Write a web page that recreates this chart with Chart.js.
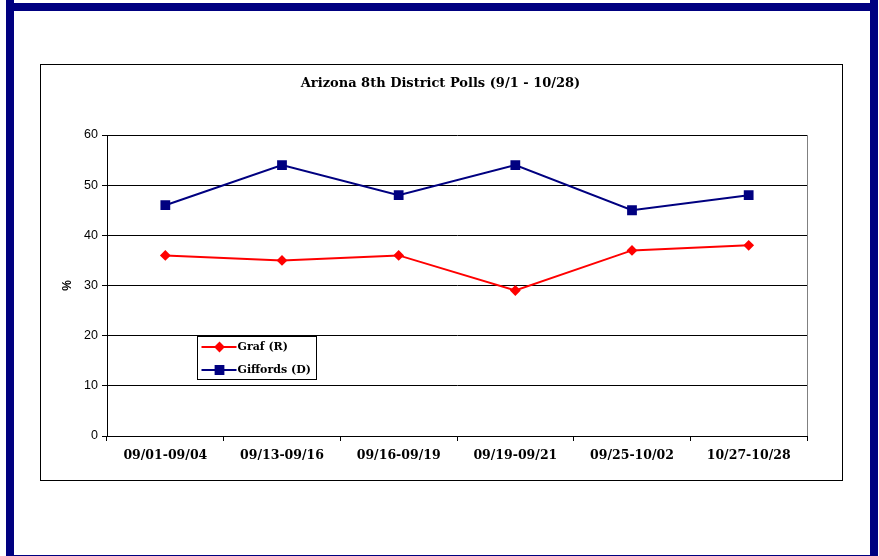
<!DOCTYPE html>
<html>
<head>
<meta charset="utf-8">
<script src="https://cdn.jsdelivr.net/npm/chart.js@4/dist/chart.umd.min.js"></script>
<style>
  body { margin: 0; background: #fff; }
  #page { position: relative; width: 879px; height: 556px; overflow: hidden; }
  .bar { position: absolute; background: #000080; }
  #box { position: absolute; left: 40px; top: 64px; width: 801px; height: 415px; border: 1px solid #000; }
  canvas { position: absolute; left: 0; top: 0; }
</style>
</head>
<body>
<div id="page">
  <div class="bar" style="left:6px;top:0;width:8px;height:556px"></div>
  <div class="bar" style="left:870px;top:0;width:8px;height:556px"></div>
  <div class="bar" style="left:6px;top:3px;width:872px;height:8px"></div>
  <div class="bar" style="left:6px;top:555px;width:872px;height:1px"></div>
  <div id="box"></div>
  <canvas id="myChart" width="879" height="556"></canvas>
</div>
<script>
const periods = ["09/01-09/04", "09/13-09/16", "09/16-09/19", "09/19-09/21", "09/25-10/02", "10/27-10/28"];
const grafValues = [36, 35, 36, 29, 37, 38];
const giffordsValues = [46, 54, 48, 54, 45, 48];
const yTicks = [0, 10, 20, 30, 40, 50, 60];

// legend box + right border of the plot area, drawn like the old excel chart
const boxLegend = {
  id: 'boxLegend',
  afterDraw(chart) {
    const c = chart.ctx;
    const a = chart.chartArea;
    c.save();
    c.strokeStyle = '#808080';
    c.lineWidth = 1;
    c.beginPath();
    c.moveTo(a.right + 0.5, a.top);
    c.lineTo(a.right + 0.5, a.bottom);
    c.stroke();

    const x = 197.5, y = 336.5, w = 119, h = 43;
    c.fillStyle = '#fff';
    c.fillRect(x, y, w, h);
    c.strokeStyle = '#000';
    c.strokeRect(x, y, w, h);
    c.font = 'bold 11px "DejaVu Serif"';
    c.textBaseline = 'middle';
    chart.data.datasets.forEach((ds, i) => {
      const ly = y + 10.5 + i * 23;
      c.strokeStyle = ds.borderColor;
      c.lineWidth = 2;
      c.beginPath();
      c.moveTo(x + 4, ly);
      c.lineTo(x + 39, ly);
      c.stroke();
      Chart.helpers.drawPoint(c, {pointStyle: ds.pointStyle, radius: ds.pointRadius, borderWidth: 1}, x + 22, ly);
      c.fillStyle = ds.pointBackgroundColor;
      c.fill();
      c.fillStyle = '#000';
      c.fillText(ds.label, x + 40, ly);
    });
    c.restore();
  }
};

let config = {
  type: 'line',
  data: {
    labels: periods,
    datasets: [{
      label: 'Graf (R)',
      data: grafValues,
      borderColor: '#ff0000',
      backgroundColor: '#ff0000',
      pointBackgroundColor: '#ff0000',
      pointBorderColor: '#ff0000',
      pointStyle: 'rectRot',
      pointRadius: 4,
      borderWidth: 2,
      tension: 0,
    }, {
      label: 'Giffords (D)',
      data: giffordsValues,
      borderColor: '#000080',
      backgroundColor: '#000080',
      pointBackgroundColor: '#000080',
      pointBorderColor: '#000080',
      pointStyle: 'rect',
      pointRadius: 5.5,
      borderWidth: 2,
      tension: 0,
    }],
  },
  options: {
    responsive: false,
    animation: false,
    layout: {
      padding: { left: 74, right: 72, top: 0, bottom: 80 }
    },
    plugins: {
      legend: { display: false },
      tooltip: { enabled: false },
      title: {
        display: true,
        text: 'Arizona 8th District Polls (9/1 - 10/28)',
        color: '#000',
        font: { family: '"DejaVu Serif"', size: 13, weight: 'bold', lineHeight: 1.2 },
        padding: { top: 76, bottom: 43.4 }
      }
    },
    scales: {
      x: {
        offset: true,
        afterFit(scale) { scale.height = 40; },
        grid: {
          drawOnChartArea: false,
          drawTicks: true,
          tickLength: 5,
          color: '#000',
          offset: true
        },
        border: { color: '#000', width: 1 },
        ticks: {
          color: '#000',
          padding: 7,
          maxRotation: 0,
          font: { family: '"DejaVu Serif"', size: 12.5, weight: 'bold' }
        }
      },
      y: {
        min: 0,
        max: 60,
        afterBuildTicks(scale) { scale.ticks = yTicks.map(v => ({ value: v })); },
        afterFit(scale) { scale.width = 33; },
        grid: {
          color: '#000',
          tickLength: 5,
          lineWidth: 1
        },
        border: { color: '#000', width: 1 },
        title: {
          display: true,
          text: '%',
          color: '#000',
          padding: { top: -14, bottom: 0 },
          font: { family: '"Liberation Sans"', size: 12, weight: 'bold' }
        },
        ticks: {
          color: '#000',
          padding: 4,
          font: { family: '"Liberation Sans"', size: 12.5 }
        }
      }
    }
  },
  plugins: [boxLegend]
};

const ctx = document.getElementById('myChart').getContext('2d');
const myChart = new Chart(ctx, config);
</script>
</body>
</html>
